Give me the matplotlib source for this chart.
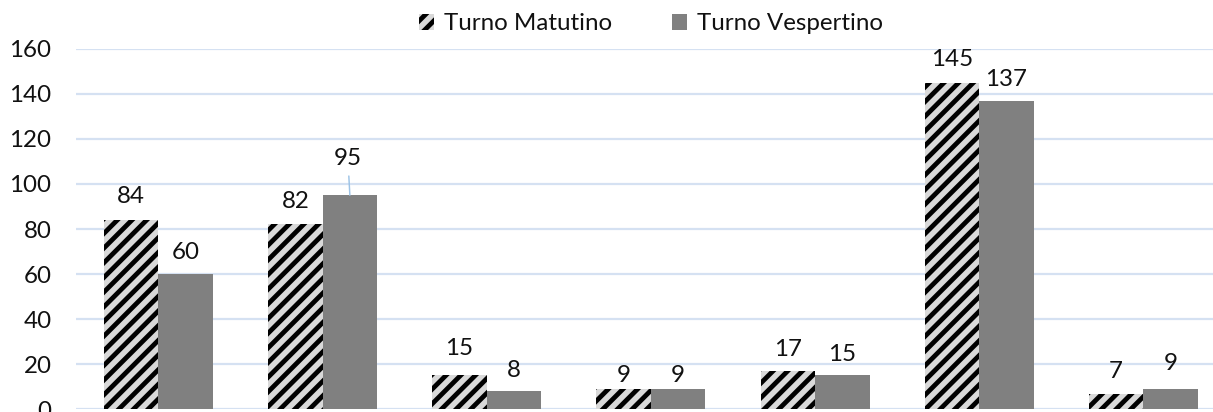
import matplotlib
matplotlib.use("Agg")
import matplotlib.pyplot as plt
import numpy as np

# ---- data ----
categories = ["C1", "C2", "C3", "C4", "C5", "C6", "C7"]
series_names = ["Turno Matutino", "Turno Vespertino"]
matutino = [84, 82, 15, 9, 17, 145, 7]
vespertino = [60, 95, 8, 9, 15, 137, 9]
yticks = [0, 20, 40, 60, 80, 100, 120, 140, 160]

# ---- style ----
DPI = 132
W, H = 1213, 412
plt.rcParams['font.family'] = ['Lato', 'DejaVu Sans']
plt.rcParams['hatch.linewidth'] = 2.6
FS = 13.2
grid_color = '#d5e1f2'
px2pt = 72.0 / DPI

# label offsets in pixels above bar top
off_m = [23, 23, 27, 14, 21, 23, 22]
off_v = [22, 37, 21, 14, 21, 21, 26]

fig = plt.figure(figsize=(W / DPI, H / DPI), dpi=DPI)
left_px, right_px = 76.4, 1225.4
bottom_px, top_px = 412 - 409.3, 412 - 48.7
ax = fig.add_axes([left_px / W, bottom_px / H, (right_px - left_px) / W, (top_px - bottom_px) / H])

x = np.arange(len(categories))
bw = 0.332
bars_m = ax.bar(x - bw / 2, matutino, width=bw, color='#d9d9d9', edgecolor='black',
                linewidth=0, hatch='///', label=series_names[0], zorder=3)
bars_v = ax.bar(x + bw / 2, vespertino, width=bw, color='#808080', linewidth=0,
                label=series_names[1], zorder=3)

ax.set_xlim(-0.5, len(categories) - 0.5)
ax.set_ylim(0, 160)
ax.set_yticks(yticks)
ax.set_yticklabels([str(v) for v in yticks], fontsize=FS, color='#111111')
ax.tick_params(axis='y', length=0, pad=25 * px2pt)
ax.set_xticks([])
for s in ax.spines.values():
    s.set_visible(False)
ax.yaxis.grid(True, color=grid_color, linewidth=1.2, zorder=0)
ax.set_axisbelow(True)

for i in range(len(categories)):
    ax.annotate(str(matutino[i]), xy=(x[i] - bw / 2, matutino[i]),
                xytext=(0, off_m[i] * px2pt), textcoords='offset points',
                ha='center', va='center', fontsize=FS, color='#111111', zorder=5)
    if off_v[i] > 30:
        ax.annotate(str(vespertino[i]), xy=(x[i] + bw / 2, vespertino[i]),
                    xytext=(-2 * px2pt, off_v[i] * px2pt), textcoords='offset points',
                    ha='center', va='center', fontsize=FS, color='#111111', zorder=5,
                    arrowprops=dict(arrowstyle='-', color='#9dc3e6', lw=0.8,
                                    shrinkA=2, shrinkB=0))
    else:
        ax.annotate(str(vespertino[i]), xy=(x[i] + bw / 2, vespertino[i]),
                    xytext=(0, off_v[i] * px2pt), textcoords='offset points',
                    ha='center', va='center', fontsize=FS, color='#111111', zorder=5)

leg = fig.legend(loc='center', bbox_to_anchor=(651 / W, 1 - 24 / H), ncol=2,
                 frameon=False, fontsize=FS, handlelength=0.62, handleheight=0.62,
                 handletextpad=0.4, columnspacing=2.5)
for t in leg.get_texts():
    t.set_color('#111111')

fig.savefig("out.png", dpi=DPI)
